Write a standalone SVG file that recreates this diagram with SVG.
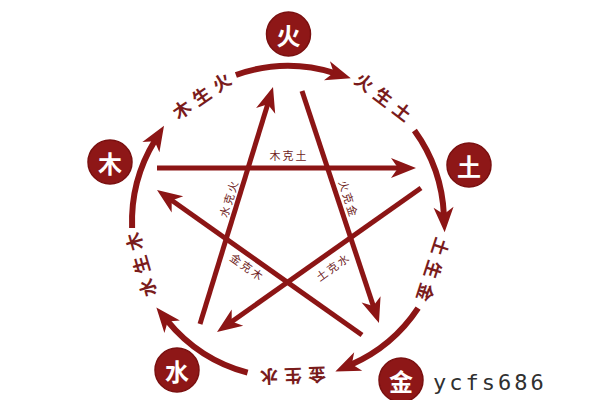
<svg xmlns="http://www.w3.org/2000/svg" width="600" height="400" viewBox="0 0 600 400">
  <style>
    .node circle { fill: #8e1717; stroke: #7a1010; stroke-width: 1.5; }
    .node text { fill: #ffffff; font-family: "Noto Sans CJK SC", "Noto Sans CJK TC", sans-serif; font-size: 24px; font-weight: bold; text-anchor: middle; dominant-baseline: central; }
    .arc { fill: none; stroke: #8c1515; stroke-width: 6; marker-end: url(#ah); }
    .star { fill: none; stroke: #8c1515; stroke-width: 5; marker-end: url(#ah); }
    .sheng { fill: #7a1c1c; font-family: "Noto Sans CJK SC", "Noto Sans CJK TC", sans-serif; font-size: 18px; font-weight: bold; letter-spacing: 6px; text-anchor: middle; dominant-baseline: central; }
    .ke { fill: #6e2222; font-family: "Noto Sans CJK SC", "Noto Sans CJK TC", sans-serif; font-size: 11px; letter-spacing: 2px; text-anchor: middle; dominant-baseline: central; }
    .wm { fill: #303030; font-family: "DejaVu Sans Mono", "Liberation Mono", monospace; font-size: 22px; letter-spacing: 3px; }
  </style>
  <defs>
    <marker id="ah" markerUnits="userSpaceOnUse" markerWidth="30" markerHeight="26" viewBox="-2 -13 30 26" refX="8" refY="0" orient="auto" overflow="visible">
      <path d="M0,-10 L25,0 L0,10 L7,0 Z" fill="#8c1515"/>
    </marker>
  </defs>
  <rect width="600" height="400" fill="#ffffff"/>

  <g id="connectors">
    <!-- outer generating arcs -->
    <path class="arc" d="M235.9,75 A156,156 0 0 1 334.6,73.1"/>
    <path class="arc" d="M414.4,130.5 A156,156 0 0 1 443.9,215.2"/>
    <path class="arc" d="M418.1,308.1 A156,156 0 0 1 350.9,364.7"/>
    <path class="arc" d="M247.6,372.7 A156,156 0 0 1 167.1,320.6"/>
    <path class="arc" d="M132.1,228 A156,156 0 0 1 155.1,140.3"/>
    <!-- star overcoming lines -->
    <path class="star" d="M157,168 L399,168"/>
    <path class="star" d="M421,188 L230.9,322.2"/>
    <path class="star" d="M200,324 L268,103.2"/>
    <path class="star" d="M302,91 L373.6,306.9"/>
    <path class="star" d="M362,335 L170.9,199.8"/>
  </g>

  <g id="labels">
    <text class="sheng" transform="translate(201,95) rotate(-34.5)" x="3">木生火</text>
    <text class="sheng" transform="translate(384,96) rotate(37.4)" x="3">火生土</text>
    <text class="sheng" transform="translate(434,270) rotate(108)" x="3">土生金</text>
    <text class="sheng" transform="translate(293,377) rotate(178)" x="3">金生水</text>
    <text class="sheng" transform="translate(140,265) rotate(-106)" x="3">水生木</text>

    <text class="ke" transform="translate(288,155)" x="1">木克土</text>
    <text class="ke" transform="translate(228,199) rotate(-72.9)" x="1">水克火</text>
    <text class="ke" transform="translate(349,198) rotate(71.9)" x="1">火克金</text>
    <text class="ke" transform="translate(247,266) rotate(35.3)" x="1">金克木</text>
    <text class="ke" transform="translate(332,267) rotate(-35.5)" x="1">土克水</text>
  </g>

  <g id="node-huo" class="node"><circle cx="288.5" cy="34" r="22"/><text x="288.5" y="34">火</text></g>
  <g id="node-mu" class="node"><circle cx="110" cy="162" r="22"/><text x="110" y="162">木</text></g>
  <g id="node-tu" class="node"><circle cx="469" cy="165" r="22"/><text x="469" y="165">土</text></g>
  <g id="node-shui" class="node"><circle cx="177" cy="370" r="22"/><text x="177" y="370">水</text></g>
  <g id="node-jin" class="node"><circle cx="401" cy="380" r="22"/><text x="401" y="380">金</text></g>

  <text class="wm" x="433" y="390">ycfs686</text>
</svg>
